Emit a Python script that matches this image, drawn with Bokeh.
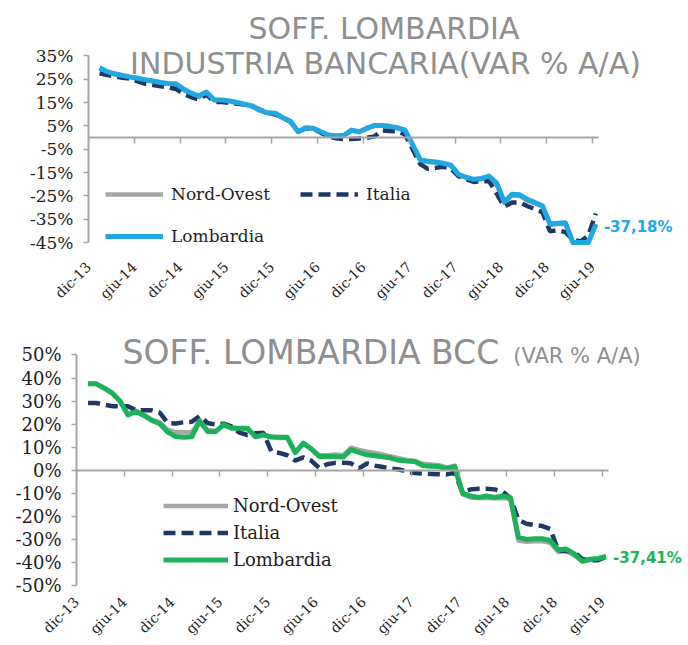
from math import pi
from bokeh.plotting import figure
from bokeh.models import (Range1d, LinearAxis, FixedTicker, PrintfTickFormatter,
                          Legend, LegendItem, Label)
from bokeh.layouts import column
from bokeh.embed import file_html
from bokeh.resources import INLINE

# ---------------- data ----------------
month_abbr = ["gen", "feb", "mar", "apr", "mag", "giu", "lug", "ago", "set", "ott", "nov", "dic"]
months = [f"{m}-{y}" for y in range(14, 20) for m in month_abbr][:66]   # gen-14 ... giu-19
tick_labels = ["dic-13", "giu-14", "dic-14", "giu-15", "dic-15", "giu-16",
               "dic-16", "giu-17", "dic-17", "giu-18", "dic-18", "giu-19"]

# Chart 1: Soff. Lombardia - Industria Bancaria (var % a/a)
ib_lombardia = [29.9, 28.2, 27.3, 26.6, 26.0, 25.4, 24.8, 24.2, 23.6, 23.2,
                23.0, 20.8, 19.0, 17.8, 19.5, 16.2, 16.1, 15.7, 15.0, 14.3,
                13.5, 11.7, 10.6, 10.4, 8.5, 7.0, 2.5, 4.2, 4.0, 2.5,
                1.1, 0.8, 1.0, 3.2, 2.5, 4.0, 5.2, 5.2, 4.8, 4.2,
                3.2, -3.0, -9.5, -10.2, -10.5, -11.0, -11.8, -15.8, -17.0, -17.9,
                -17.5, -16.5, -19.5, -27.6, -24.3, -24.5, -26.5, -27.8, -29.2, -37.0,
                -36.7, -36.5, -45.0, -45.0, -45.0, -37.18]
ib_italia = [27.5, 26.8, 26.2, 25.6, 25.2, 24.1, 23.0, 22.5, 22.0, 21.5,
             20.8, 18.7, 17.3, 16.2, 18.5, 15.2, 15.2, 14.9, 14.5, 14.1,
             13.4, 12.0, 10.7, 9.8, 8.8, 6.7, 2.5, 4.0, 3.8, 2.0,
             0.5, -0.3, -0.7, -0.6, -0.4, -0.1, 0.5, 3.0, 2.8, 2.6,
             1.3, -5.0, -11.4, -13.4, -13.0, -12.5, -13.2, -16.5, -17.8, -19.0,
             -18.8, -18.6, -24.0, -29.6, -27.8, -27.8, -29.3, -30.7, -32.0, -40.2,
             -39.7, -40.5, -43.8, -44.5, -42.0, -32.5]
ib_nordovest = [29.5, 28.0, 27.0, 26.3, 25.8, 25.2, 24.5, 24.0, 23.3, 23.0,
                22.6, 20.5, 18.6, 17.4, 19.0, 16.0, 15.8, 15.5, 14.8, 14.1,
                13.3, 11.5, 10.5, 10.2, 8.3, 6.8, 2.6, 4.0, 3.8, 2.4,
                1.0, 0.6, 0.8, 3.0, 2.4, 3.8, 5.0, 5.0, 4.6, 4.0,
                3.0, -3.2, -9.8, -10.5, -10.8, -11.2, -12.0, -16.0, -17.2, -18.2,
                -17.8, -16.8, -19.8, -27.8, -24.8, -25.0, -27.0, -28.2, -29.6, -37.4,
                -37.0, -37.0, -45.0, -45.0, -45.0, -37.0]
ib_yticks = [35, 25, 15, 5, -5, -15, -25, -35, -45]

# Chart 2: Soff. Lombardia BCC (var % a/a)
bcc_lombardia = [37.5, 37.5, 35.7, 33.6, 30.0, 24.0, 25.5, 23.8, 21.6, 20.2,
                 16.6, 14.6, 14.3, 14.5, 21.5, 16.8, 16.7, 19.8, 18.2, 18.2,
                 18.2, 14.5, 15.3, 14.4, 14.3, 14.3, 7.6, 11.8, 9.2, 6.0,
                 6.0, 6.0, 5.7, 8.9, 7.8, 6.7, 6.3, 5.8, 5.3, 4.3,
                 4.0, 3.8, 2.0, 1.7, 1.6, 0.6, 1.6, -10.0, -11.2, -11.8,
                 -11.2, -11.8, -11.2, -11.8, -29.0, -30.0, -29.7, -29.7, -30.5, -34.5,
                 -34.2, -36.2, -39.5, -38.6, -38.3, -37.41]
bcc_italia = [29.2, 29.2, 28.5, 27.8, 27.8, 27.8, 26.0, 26.0, 26.0, 25.0,
              20.5, 20.3, 20.8, 21.0, 23.5, 20.5, 19.8, 20.2, 19.0, 16.3,
              15.3, 16.0, 16.3, 8.2, 7.5, 6.5, 4.2, 5.6, 4.2, 1.0,
              2.6, 3.2, 3.2, 3.0, 0.8, 3.0, 2.0, 1.4, 0.8, 0.3,
              -0.5, -1.2, -1.5, -1.6, -1.7, -1.8, -1.1, -9.7, -8.3, -8.0,
              -8.0, -8.3, -9.2, -12.0, -21.5, -23.2, -23.8, -24.2, -25.5, -34.8,
              -35.0, -35.5, -38.5, -39.0, -39.0, -37.6]
bcc_nordovest = [37.5, 37.5, 35.5, 33.5, 30.2, 24.5, 25.8, 24.0, 22.0, 20.8,
                 17.5, 16.5, 16.5, 16.5, 21.0, 17.5, 17.0, 19.5, 18.5, 18.0,
                 17.8, 15.0, 15.5, 14.5, 14.0, 14.0, 8.0, 11.5, 9.5, 6.5,
                 6.5, 6.8, 6.5, 9.8, 8.8, 8.0, 7.5, 6.8, 6.0, 5.2,
                 4.5, 4.0, 2.8, 2.5, 2.2, 1.2, 2.0, -10.5, -11.8, -12.0,
                 -12.0, -12.2, -12.0, -12.5, -30.5, -31.0, -30.8, -30.8, -31.5, -35.5,
                 -35.0, -37.0, -39.5, -39.0, -38.5, -37.8]
bcc_yticks = [50, 40, 30, 20, 10, 0, -10, -20, -30, -40, -50]

# ---------------- styling ----------------
GRAY = "#a6a6a6"
NAVY = "#1f3864"
BLUE = "#1fa8e1"
GREEN = "#1db25a"
AXIS = "#a6a6a6"
TXT = "#1e1e1e"
TITLE = "#8f8f8f"
SERIF = "DejaVu Serif"
SANS = "DejaVu Sans"

# month positions: mid-month after dic-13 (= 0)
x = [i + 1.45 for i in range(len(months))]
tick_pos = [6 * i for i in range(len(tick_labels))]


def fmt_pct(v):
    return f"{v:.2f}%".replace(".", ",")


def make_chart(height, min_left, min_bottom, x_end, axis_end, y_lo, y_top, yticks,
               ylabel_size, xlabel_standoff):
    p = figure(width=688, height=height, x_range=Range1d(0, x_end),
               y_range=Range1d(y_lo, y_top), output_backend="svg",
               toolbar_location=None, min_border_left=min_left,
               min_border_right=0, min_border_top=0,
               min_border_bottom=min_bottom, frame_align=False)
    p.outline_line_color = None
    p.grid.visible = False
    p.background_fill_color = "white"
    p.border_fill_color = "white"

    yax = p.yaxis[0]
    yax.ticker = FixedTicker(ticks=yticks)
    yax.bounds = (min(yticks), max(yticks))
    yax.formatter = PrintfTickFormatter(format="%d%%")
    yax.axis_line_color = AXIS
    yax.axis_line_width = 2
    yax.major_tick_line_color = AXIS
    yax.major_tick_line_width = 1.5
    yax.major_tick_in = 0
    yax.major_tick_out = 5
    yax.minor_tick_line_color = None
    yax.major_label_standoff = 10
    yax.major_label_text_font = SERIF
    yax.major_label_text_font_size = ylabel_size
    yax.major_label_text_color = TXT

    xax = p.xaxis[0]
    xax.ticker = FixedTicker(ticks=tick_pos)
    xax.major_label_overrides = {t: l for t, l in zip(tick_pos, tick_labels)}
    xax.major_label_orientation = pi / 4
    xax.axis_line_color = None
    xax.major_tick_line_color = None
    xax.minor_tick_line_color = None
    xax.major_tick_in = 0
    xax.major_tick_out = 0
    xax.major_label_standoff = xlabel_standoff
    xax.major_label_text_font = SERIF
    xax.major_label_text_font_size = "14px"
    xax.major_label_text_color = TXT

    zax = LinearAxis(fixed_location=0, ticker=FixedTicker(ticks=tick_pos),
                     major_label_overrides={t: " " for t in tick_pos},
                     bounds=(0, axis_end))
    zax.axis_line_color = AXIS
    zax.axis_line_width = 2
    zax.major_tick_line_color = AXIS
    zax.major_tick_line_width = 1.5
    zax.major_tick_in = 0
    zax.major_tick_out = 6
    zax.minor_tick_line_color = None
    zax.major_label_text_font_size = "1px"
    p.add_layout(zax, "below")
    return p


# ---------------- chart 1 ----------------
p1 = make_chart(310, 88, 60, 78.58, 66.8, -47.1, 58.7, ib_yticks, "17px", 17)
r1n = p1.line(x, ib_nordovest, line_color=GRAY, line_width=4.5, line_join="round")
r1i = p1.line(x, ib_italia, line_color=NAVY, line_width=4.5, line_dash="12 6")
r1l = p1.line(x, ib_lombardia, line_color=BLUE, line_width=5, line_join="round")

leg_common = dict(padding=0, margin=0, border_line_color=None, background_fill_alpha=0,
                  label_text_font=SERIF, label_text_color=TXT)
leg1a = Legend(items=[LegendItem(label="Nord-Ovest", renderers=[r1n]),
                      LegendItem(label="Italia", renderers=[r1i])],
               location=(17, 43), orientation="horizontal", glyph_width=58,
               glyph_height=20, label_height=20, label_standoff=8, spacing=30,
               label_text_font_size="17px", **leg_common)
leg1b = Legend(items=[LegendItem(label="Lombardia", renderers=[r1l])],
               location=(17, 1), orientation="horizontal", glyph_width=58,
               glyph_height=20, label_height=20, label_standoff=8,
               label_text_font_size="17px", **leg_common)
p1.add_layout(leg1a)
p1.add_layout(leg1b)

p1.add_layout(Label(x=38.7, y=46.5, text="SOFF. LOMBARDIA", text_align="center",
                    text_baseline="alphabetic", text_font=SANS, text_font_size="30px",
                    text_color=TITLE))
p1.add_layout(Label(x=38.9, y=31.7, text="INDUSTRIA BANCARIA(VAR % A/A)",
                    text_align="center", text_baseline="alphabetic", text_font=SANS,
                    text_font_size="30px", text_color=TITLE))
p1.add_layout(Label(x=x[-1], y=ib_lombardia[-1], text=fmt_pct(ib_lombardia[-1]),
                    x_offset=8, y_offset=-3, text_align="left", text_baseline="middle",
                    text_font=SANS, text_font_style="bold", text_font_size="15px",
                    text_color=BLUE))

# ---------------- chart 2 ----------------
p2 = make_chart(335, 76, 57, 76.79, 66.75, -50, 69.3, bcc_yticks, "18px", 14)
r2n = p2.line(x, bcc_nordovest, line_color=GRAY, line_width=4.5, line_join="round")
r2i = p2.line(x, bcc_italia, line_color=NAVY, line_width=4.5, line_dash="12 6")
r2l = p2.line(x, bcc_lombardia, line_color=GREEN, line_width=5, line_join="round")

leg2 = Legend(items=[LegendItem(label="Nord-Ovest", renderers=[r2n]),
                     LegendItem(label="Italia", renderers=[r2i]),
                     LegendItem(label="Lombardia", renderers=[r2l])],
              location=(87, 15), orientation="vertical", glyph_width=65,
              glyph_height=21, label_height=21, label_standoff=5, spacing=6,
              label_text_font_size="18px", **leg_common)
p2.add_layout(leg2)

p2.add_layout(Label(x=5.77, y=51.0, text="SOFF. LOMBARDIA BCC", text_align="left",
                    text_baseline="alphabetic", text_font=SANS, text_font_size="33px",
                    text_color=TITLE))
p2.add_layout(Label(x=54.8, y=49.6, text="(VAR % A/A)", text_align="left",
                    text_baseline="alphabetic", text_font=SANS, text_font_size="21px",
                    text_color=TITLE))
p2.add_layout(Label(x=x[-1], y=bcc_lombardia[-1], text=fmt_pct(bcc_lombardia[-1]),
                    x_offset=7, y_offset=-2, text_align="left", text_baseline="middle",
                    text_font=SANS, text_font_style="bold", text_font_size="15px",
                    text_color=GREEN))

layout = column(p1, p2, spacing=0)
open("out.html", "w").write(file_html(layout, INLINE))
